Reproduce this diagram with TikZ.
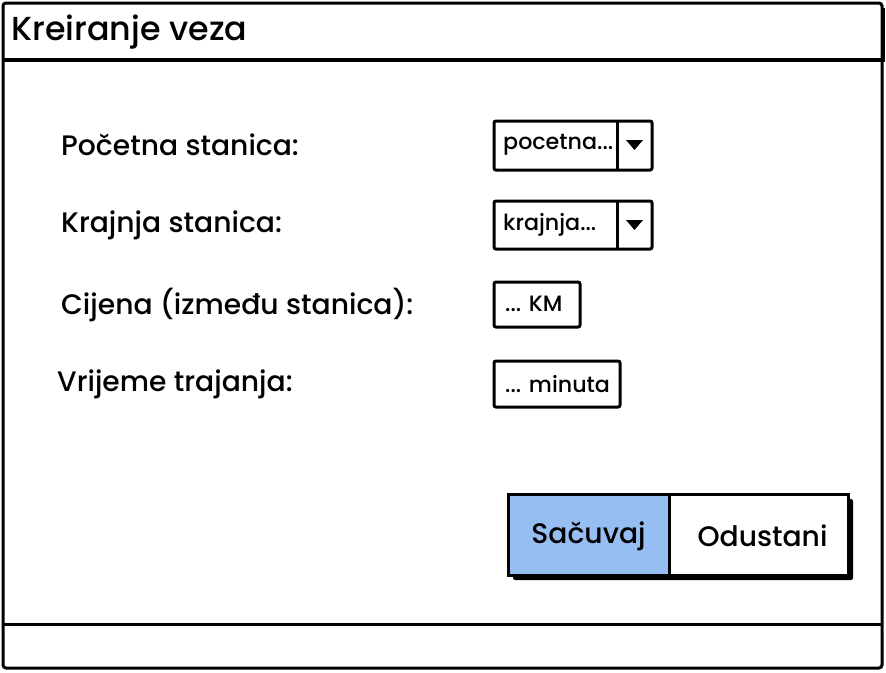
\documentclass[tikz,border=0pt]{standalone}
\usepackage{fontspec}
\setmainfont{Poppins}[UprightFont=* Medium]
\definecolor{selblue}{RGB}{150,190,242}
\begin{document}
\begin{tikzpicture}[x=1pt,y=-1pt,
  frame/.style={draw=black,line width=3pt,rounded corners=3pt},
  sep/.style={draw=black,line width=3.5pt},
  lbl/.style={anchor=west,inner sep=0pt,font=\fontsize{28.2}{31}\selectfont},
  ctl/.style={draw=black,line width=3pt,rounded corners=2pt,fill=white},
  ctltext/.style={anchor=west,inner sep=0pt,font=\fontsize{22.2}{25}\selectfont},
  btntext/.style={inner sep=0pt,font=\fontsize{28.2}{31}\selectfont}]
\useasboundingbox (0,0) rectangle (886,672);
% window
\draw[frame,fill=white] (3,3) rectangle (882,668);
\draw[line width=3pt] (883,8) -- (883,62);
\draw[sep] (3,60) -- (882,60);
\draw[sep] (3,624.5) -- (882,624.5);
\node[anchor=west,inner sep=0pt,font=\fontsize{33.3}{36}\selectfont] (title) at (11,32) {Kreiranje veza};
% labels
\node[lbl] (l1) at (61,145) {Početna stanica:};
\node[lbl] (l2) at (61,225) {Krajnja stanica:};
\node[lbl] (l3) at (61,305) {Cijena (između stanica):};
\node[lbl] (l4) at (57,384) {Vrijeme trajanja:};
% combo 1
\draw[ctl] (494,121) rectangle (652,170);
\draw[line width=3pt] (617,122) -- (617,169);
\fill (626,140) -- (643,140) -- (634.5,150) -- cycle;
\node[ctltext] (c1) at (503,145) {pocetna...};
% combo 2
\draw[ctl] (494,201) rectangle (652,249);
\draw[line width=3pt] (617,202) -- (617,248);
\fill (626,220) -- (643,220) -- (634.5,230) -- cycle;
\node[ctltext] (c2) at (503,225) {krajnja...};
% text boxes
\draw[ctl] (494,282) rectangle (580,327);
\node[ctltext] (t1) at (505,304) {... KM};
\draw[ctl] (494,361) rectangle (620,407);
\node[ctltext] (t2) at (505,384) {... minuta};
% buttons
\fill[black,rounded corners=2pt] (513,499) rectangle (853,580);
\draw[line width=3pt,fill=white] (508,494) rectangle (848,575);
\draw[line width=3pt,fill=selblue] (508,494) rectangle (669,575);
\node[btntext] (b1) at (588.5,536) {Sačuvaj};
\node[btntext] (b2) at (762.5,536) {Odustani};
\end{tikzpicture}
\end{document}
